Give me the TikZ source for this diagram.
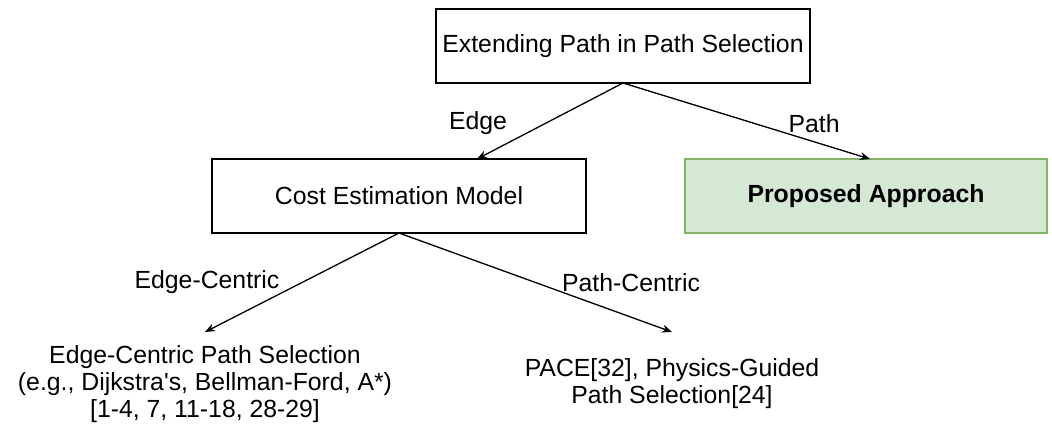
\documentclass[tikz,border=0pt]{standalone}
\usepackage{fontspec}
\setmainfont{Liberation Sans}
\usetikzlibrary{arrows.meta,positioning}
\definecolor{propfill}{HTML}{D5E8D4}
\definecolor{propdraw}{HTML}{82B366}

\begin{document}
\begin{tikzpicture}[x=0.5pt, y=-0.5pt, font=\fontsize{12.4}{13.5}\selectfont, line width=0.65pt,
  box/.style={draw, minimum width=187pt, minimum height=37pt, inner sep=0pt, outer sep=0pt},
  refs/.style={align=center, minimum height=52pt, inner sep=0pt, outer sep=0pt},
  lbl/.style={inner sep=0pt},
  arr/.style={-{Stealth[length=5pt, width=4pt]}}]
  \useasboundingbox (0,0) rectangle (1052,429);

  \node[box] (extend) at (623,46) {Extending Path in Path Selection};
  \node[box] (cost) at (399,196) {Cost Estimation Model};
  \node[box, fill=propfill, draw=propdraw, minimum width=181pt] (prop) at (866,196) {\textbf{Proposed Approach}};

  \node[refs] (edgesel) at (205,384) {Edge-Centric Path Selection\\(e.g., Dijkstra\textquotesingle s, Bellman-Ford, A*)\\{[}1-4, 7, 11-18, 28-29]};
  \node[refs] (pacesel) at (672,384) {PACE[32], Physics-Guided\\Path Selection[24]};

  \draw[arr] (extend.south) -- node[lbl, pos=0.53, left=19pt] {Edge} ([xshift=39pt]cost.north);
  \draw[arr] (extend.south) -- node[lbl, pos=0.53, right=17pt] {Path} ([xshift=2pt]prop.north);
  \draw[arr] (cost.south) -- node[lbl, pos=0.5, left=11pt] {Edge-Centric} (edgesel.north);
  \draw[arr] (cost.south) -- node[lbl, pos=0.5, right=13pt] {Path-Centric} (pacesel.north);
\end{tikzpicture}
\end{document}
